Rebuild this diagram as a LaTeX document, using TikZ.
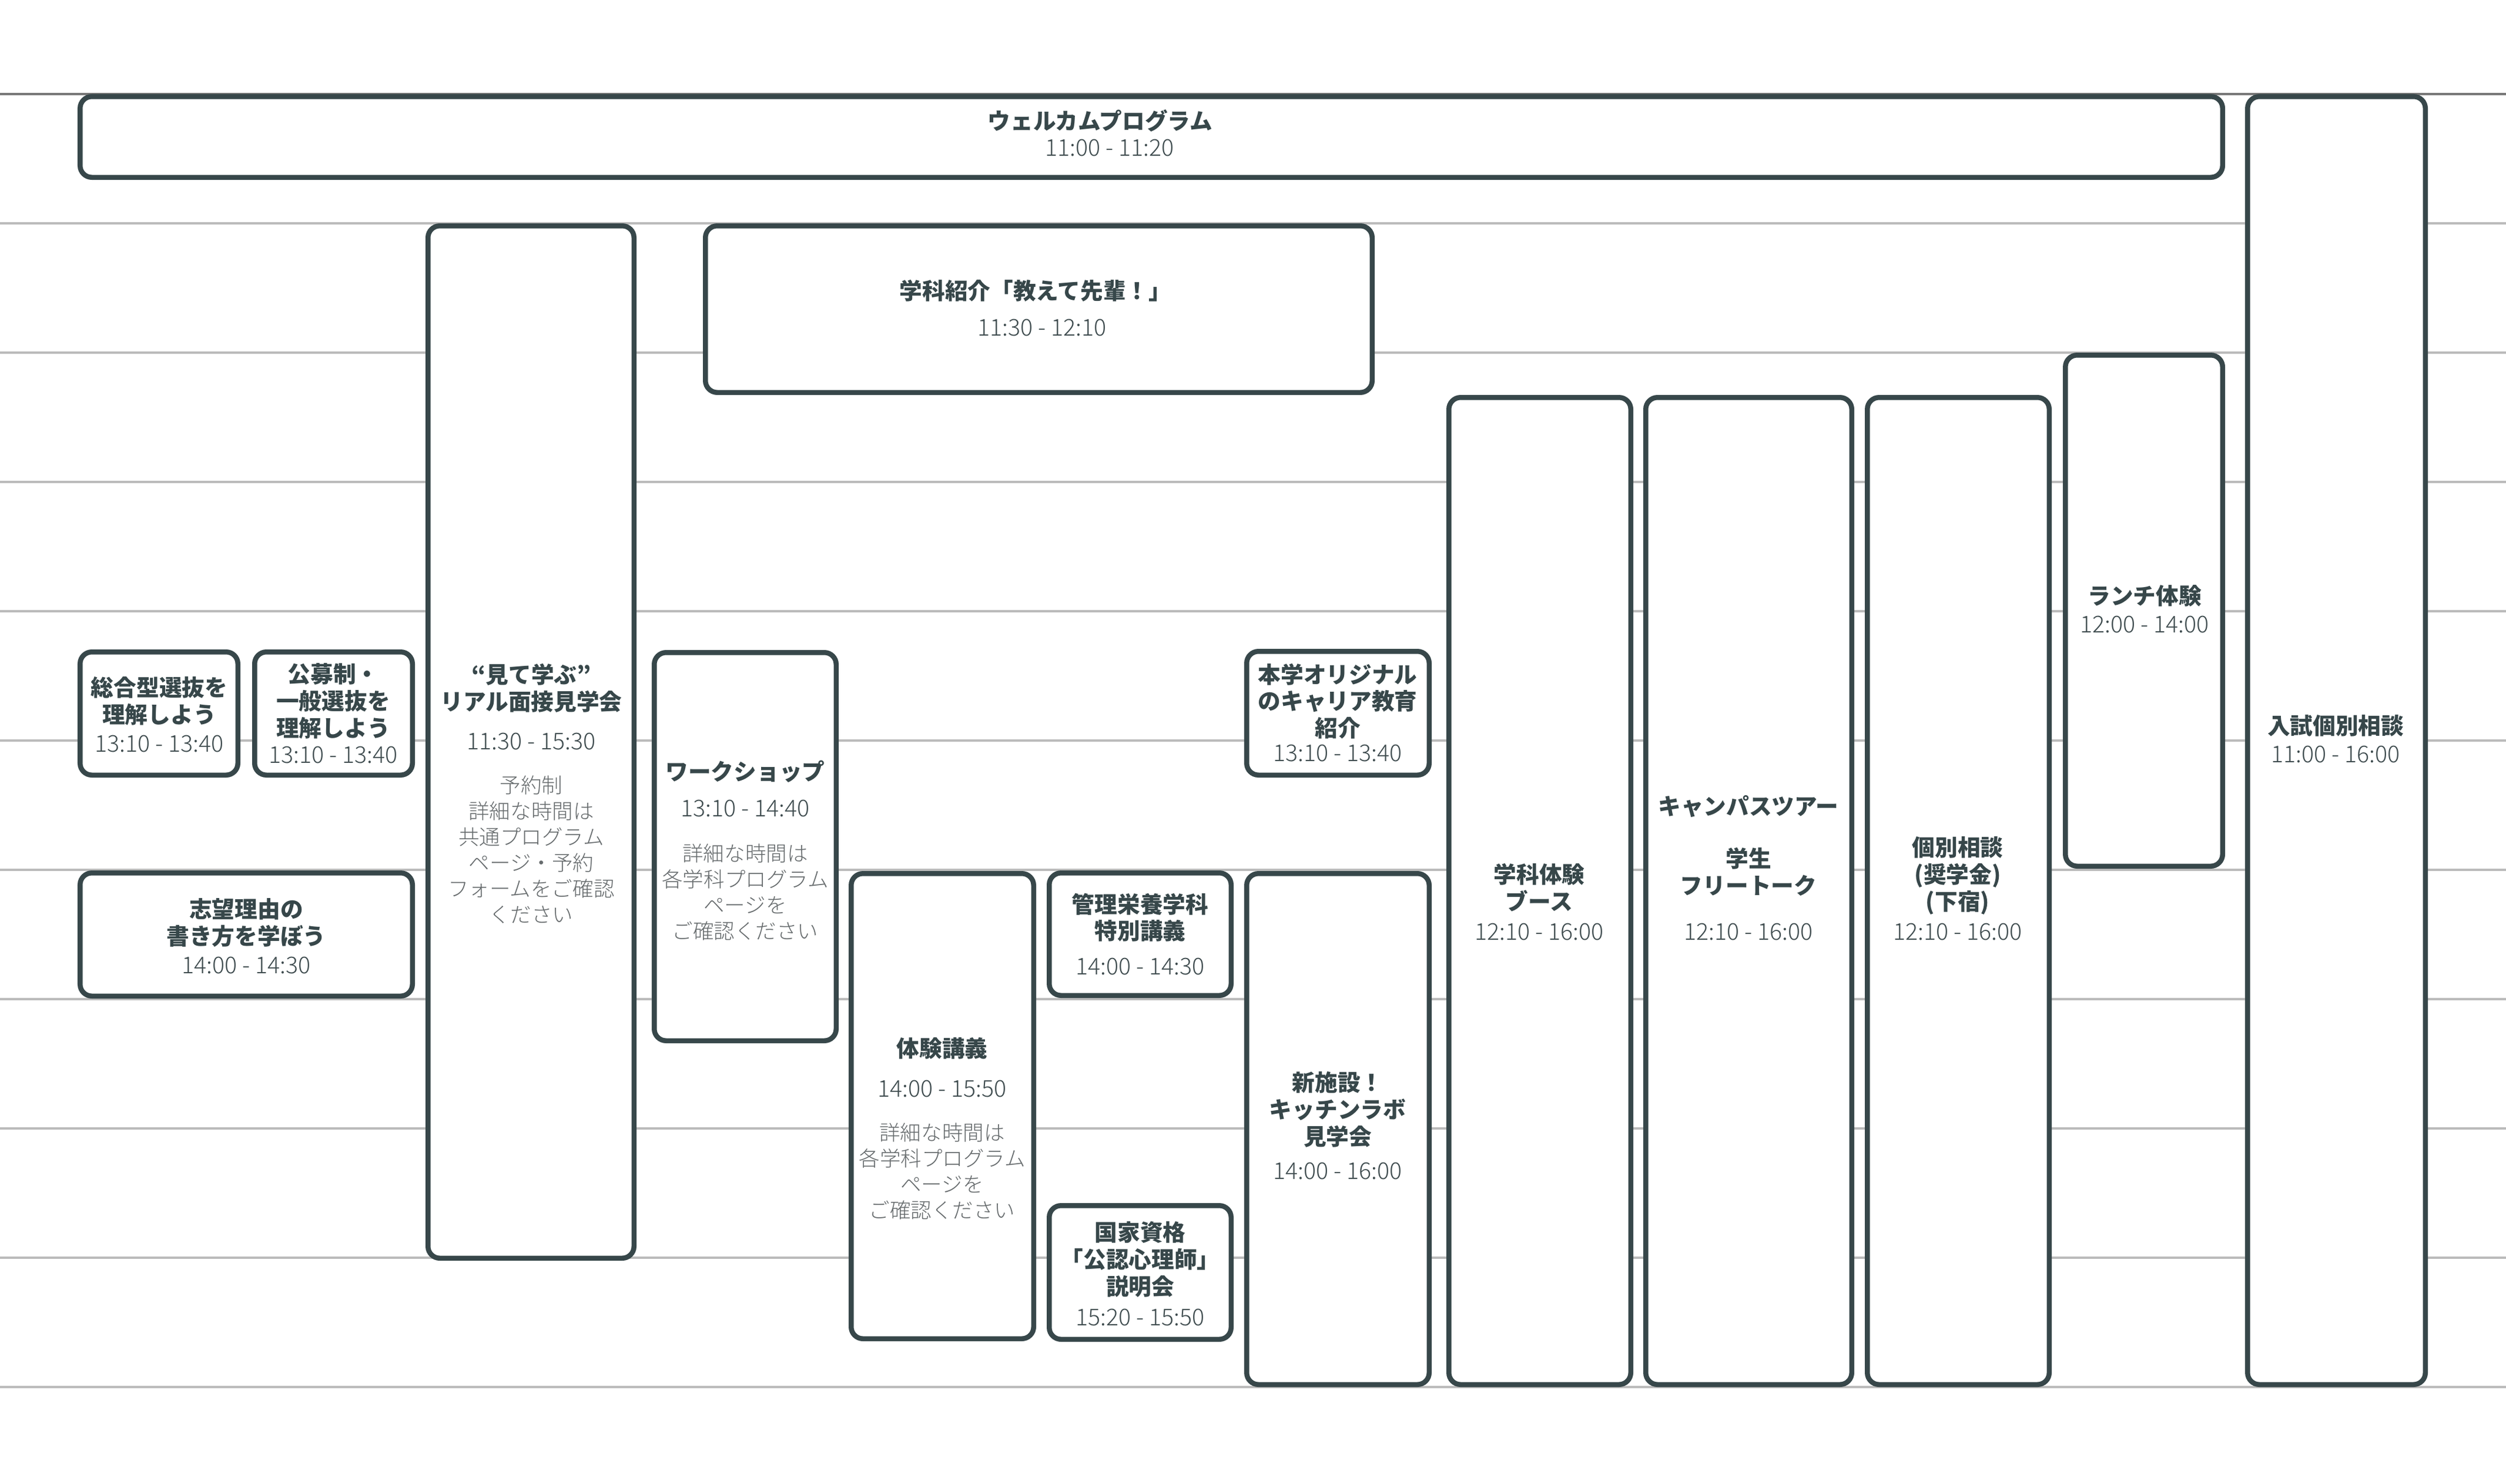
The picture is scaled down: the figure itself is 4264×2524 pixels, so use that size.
\documentclass[tikz,border=0pt]{standalone}
\usepackage{fontspec}
\setmainfont{Noto Sans CJK JP}
\IfFontExistsTF{Noto Sans CJK JP Light}
  {\newfontfamily\lightjp{Noto Sans CJK JP Light}}
  {\newfontfamily\lightjp{Noto Sans CJK JP}}
\definecolor{slotline}{HTML}{37474A}
\definecolor{ttlcol}{HTML}{37474A}
\definecolor{hrscol}{HTML}{3F4C4F}
\definecolor{ntscol}{HTML}{666B6D}
\definecolor{gridcol}{HTML}{BBBBBB}
\definecolor{topcol}{HTML}{777777}
\tikzset{
  slot/.style = {draw=slotline, fill=white, line width=0.085cm, rounded corners=0.2cm},
  ttl/.style = {text=ttlcol, font=\fontsize{11}{13}\selectfont\bfseries, align=center, inner sep=0pt},
  hrs/.style = {text=hrscol, font=\fontsize{11.2}{13}\selectfont\lightjp, inner sep=0pt},
  nts/.style = {text=ntscol, font=\fontsize{10.1}{12.5}\selectfont\lightjp, align=center, inner sep=0pt},
  gridline/.style = {draw=gridcol, line width=0.04cm}
}
% box by its outer edges: left, top, right, bottom
\newcommand{\slotbox}[4]{\draw[slot] (#1+4.25,#2+4.25) rectangle (#3-4.25,#4-4.25);}

\begin{document}
\begin{tikzpicture}[x=0.01cm, y=-0.01cm]
\useasboundingbox (0,0) rectangle (4264,2524);
\foreach \k in {1,...,10}
  \draw[gridline] (0,{159.5+220.05*\k}) -- (4264,{159.5+220.05*\k});
\draw[gridline, draw=topcol] (0,159.5) -- (4264,159.5);

\slotbox{132}{160}{3786}{306}
\slotbox{3820}{160}{4131}{2360}
\slotbox{724}{380}{1083}{2145}
\slotbox{1196}{380}{2339}{672}
\slotbox{2461}{672}{2779}{2360}
\slotbox{2796}{672}{3155}{2360}
\slotbox{3173}{672}{3491}{2360}
\slotbox{3510}{600}{3786}{1478}
\slotbox{132}{1105}{409}{1323}
\slotbox{429}{1105}{706}{1323}
\slotbox{132}{1481}{706}{1699}
\slotbox{1109}{1106}{1427}{1775}
\slotbox{1444}{1482}{1763}{2282}
\slotbox{1781}{1481}{2099}{1698}
\slotbox{1781}{2047}{2099}{2283}
\slotbox{2117}{1104}{2436}{1323}
\slotbox{2117}{1482}{2436}{2360}

\node[ttl] (welcome) at (1872,205) {ウェルカムプログラム};
\node[hrs] (welcome-h) at (1888,252) {11:00 - 11:20};
\node[ttl] (shokai) at (1762,495) {学科紹介「教えて先輩！」};
\node[hrs] (shokai-h) at (1773,558) {11:30 - 12:10};

\node[ttl] (mite) at (904,1171) {“見て学ぶ”\\リアル面接見学会};
\node[hrs] (mite-h) at (904,1262) {11:30 - 15:30};
\node[nts] (mite-n) at (904,1446) {予約制\\詳細な時間は\\共通プログラム\\ページ・予約\\フォームをご確認\\ください};

\node[ttl] (sogo) at (271,1193) {総合型選抜を\\理解しよう};
\node[hrs] (sogo-h) at (271,1266) {13:10 - 13:40};
\node[ttl] (kobo) at (567,1193) {公募制・\\一般選抜を\\理解しよう};
\node[hrs] (kobo-h) at (567,1285) {13:10 - 13:40};
\node[ttl] (shibo) at (419,1570) {志望理由の\\書き方を学ぼう};
\node[hrs] (shibo-h) at (419,1643) {14:00 - 14:30};

\node[ttl] (workshop) at (1268,1313) {ワークショップ};
\node[hrs] (workshop-h) at (1268,1376) {13:10 - 14:40};
\node[nts] (workshop-n) at (1268,1518) {詳細な時間は\\各学科プログラム\\ページを\\ご確認ください};

\node[ttl] (kogi) at (1603,1784) {体験講義};
\node[hrs] (kogi-h) at (1603,1853) {14:00 - 15:50};
\node[nts] (kogi-n) at (1603,1993) {詳細な時間は\\各学科プログラム\\ページを\\ご確認ください};

\node[ttl] (kanri) at (1940,1561) {管理栄養学科\\特別講義};
\node[hrs] (kanri-h) at (1940,1645) {14:00 - 14:30};
\node[ttl] (kokka) at (1940,2143) {国家資格\\「公認心理師」\\説明会};
\node[hrs] (kokka-h) at (1940,2242) {15:20 - 15:50};

\node[ttl] (hongaku) at (2276,1193) {本学オリジナル\\のキャリア教育\\紹介};
\node[hrs] (hongaku-h) at (2276,1282) {13:10 - 13:40};
\node[ttl] (kitchen) at (2276,1888) {新施設！\\キッチンラボ\\見学会};
\node[hrs] (kitchen-h) at (2276,1993) {14:00 - 16:00};

\node[ttl] (booth) at (2619,1510) {学科体験\\ブース};
\node[hrs] (booth-h) at (2619,1586) {12:10 - 16:00};
\node[ttl] (campus) at (2975,1372) {キャンパスツアー};
\node[ttl] (talk) at (2975,1483) {学生\\フリートーク};
\node[hrs] (campus-h) at (2975,1586) {12:10 - 16:00};
\node[ttl] (kobetsu) at (3331,1490) {個別相談\\(奨学金)\\(下宿)};
\node[hrs] (kobetsu-h) at (3331,1586) {12:10 - 16:00};

\node[ttl] (lunch) at (3649,1014) {ランチ体験};
\node[hrs] (lunch-h) at (3649,1063) {12:00 - 14:00};
\node[ttl] (nyushi) at (3974,1235) {入試個別相談};
\node[hrs] (nyushi-h) at (3974,1284) {11:00 - 16:00};
\end{tikzpicture}
\end{document}
